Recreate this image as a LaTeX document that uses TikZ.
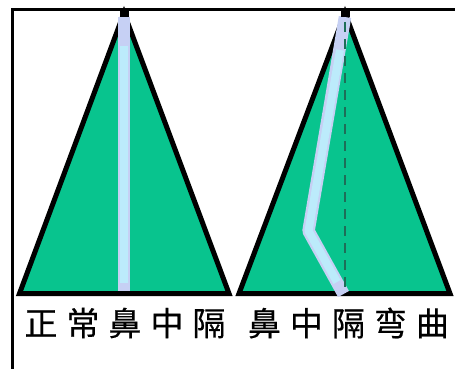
\documentclass[tikz,border=0pt]{standalone}
\usepackage{fontspec}
\newfontfamily\cjk[FakeBold=0.5]{Noto Sans CJK SC}
\definecolor{tissue}{HTML}{08C48E}
\definecolor{septumcore}{HTML}{BCEBFB}
\definecolor{septumedge}{HTML}{C6D0F4}
\definecolor{midline}{HTML}{1E6E58}
\newcommand{\gapchar}{\hspace{9pt}}
\tikzset{
  wall/.style={line width=5pt, line join=miter},
  nose/.style={wall, fill=tissue},
  septumouter/.style={line width=12.5pt, color=septumedge, line join=round},
  septuminner/.style={line width=8pt, color=septumcore, line join=round},
  caption/.style={inner sep=0pt, font=\cjk\fontsize{33}{33}\selectfont, text=black},
}
\begin{document}
\begin{tikzpicture}[x=1pt,y=-1pt]
\useasboundingbox (0,0) rectangle (455,369);
\fill[white] (0,0) rectangle (455,369);

% outer frame: top and left edges only
\draw[line width=3pt] (12.5,369) -- (12.5,9.5) -- (455,9.5);

% normal septum
\coordinate (la) at (124,13);
\coordinate (lb) at (19.5,293.5);
\coordinate (lc) at (229,293.5);
\draw[nose] (la) -- (lb) -- (lc) -- cycle;
\draw[septumouter] (124,17) -- (124,291);
\draw[septuminner] (124,46) -- (124,283);
\fill (119.5,9) rectangle (129,17);

% deviated septum
\coordinate (ra) at (345,13);
\coordinate (rb) at (239,293.5);
\coordinate (rc) at (450,293.5);
\draw[nose] (ra) -- (rb) -- (rc) -- cycle;
\draw[septumouter] (345,17) -- (308.5,231) -- (343.5,294);
\draw[septuminner] (340,50) -- (308.5,231) -- (337,282);
\draw[midline, line width=1.5pt, dash pattern=on 10pt off 7pt] (345,22) -- (345,290);
\fill (341,9) rectangle (350,17);

% captions
\node[caption] (normal) at (125,323) {正\gapchar 常\gapchar 鼻\gapchar 中\gapchar 隔};
\node[caption] (deviated) at (348.5,323) {鼻\gapchar 中\gapchar 隔\gapchar 弯\gapchar 曲};
\end{tikzpicture}
\end{document}
